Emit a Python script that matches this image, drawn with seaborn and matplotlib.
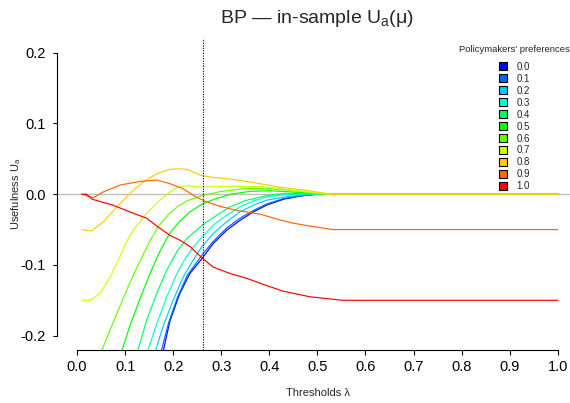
import matplotlib
matplotlib.use("Agg")
import matplotlib.pyplot as plt
from matplotlib.lines import Line2D
import seaborn as sns
import pandas as pd

# Policymakers' preference levels (mu) and their colours (rainbow, red -> blue)
prefs = ["0.0", "0.1", "0.2", "0.3", "0.4", "0.5", "0.6", "0.7", "0.8", "0.9", "1.0"]
colors = ["#0000FF", "#0066FF", "#00CCFF", "#00FFCC", "#00FF66", "#00FF00",
          "#66FF00", "#CCFF00", "#FFCC00", "#FF6600", "#FF0000"]

# Usefulness U_a(mu) against threshold lambda, one curve per preference
lam_00 = [0.01, 0.03, 0.180, 0.193, 0.214, 0.235, 0.260, 0.283, 0.311, 0.339, 0.367, 0.394, 0.43, 0.47, 0.50, 1.0]
u_00 = [-0.85, -0.85, -0.22, -0.180, -0.140, -0.112, -0.091, -0.070, -0.051, -0.037, -0.025, -0.0155, -0.007, -0.002, 0.0, 0.0]

lam_01 = [0.01, 0.03, 0.176, 0.19, 0.21, 0.23, 0.26, 0.283, 0.311, 0.339, 0.367, 0.394, 0.43, 0.47, 0.50, 1.0]
u_01 = [-0.75, -0.75, -0.22, -0.183, -0.144, -0.114, -0.086, -0.067, -0.048, -0.034, -0.023, -0.014, -0.006, -0.002, 0.0, 0.0]

lam_02 = [0.01, 0.03, 0.164, 0.179, 0.200, 0.221, 0.242, 0.260, 0.283, 0.311, 0.339, 0.367, 0.394, 0.43, 0.47, 0.50, 1.0]
u_02 = [-0.65, -0.65, -0.22, -0.187, -0.150, -0.117, -0.093, -0.074, -0.056, -0.039, -0.025, -0.0155, -0.0085, -0.004, -0.001, 0.0, 0.0]

lam_03 = [0.01, 0.03, 0.148, 0.166, 0.187, 0.208, 0.228, 0.249, 0.26, 0.283, 0.311, 0.339, 0.367, 0.394, 0.43, 0.47, 0.52, 1.0]
u_03 = [-0.55, -0.55, -0.22, -0.183, -0.145, -0.112, -0.088, -0.069, -0.061, -0.044, -0.030, -0.018, -0.0095, -0.004, -0.001, 0.0, 0.0, 0.0]

lam_04 = [0.01, 0.03, 0.127, 0.145, 0.166, 0.187, 0.208, 0.228, 0.26, 0.29, 0.318, 0.353, 0.394, 0.43, 0.47, 0.52, 1.0]
u_04 = [-0.45, -0.45, -0.22, -0.178, -0.140, -0.107, -0.081, -0.063, -0.044, -0.030, -0.018, -0.0085, -0.002, 0.001, 0.001, 0.0, 0.0]

lam_05 = [0.01, 0.03, 0.094, 0.11, 0.131, 0.152, 0.173, 0.193, 0.214, 0.235, 0.26, 0.29, 0.32, 0.36, 0.40, 0.45, 0.50, 0.53, 1.0]
u_05 = [-0.35, -0.35, -0.22, -0.186, -0.148, -0.112, -0.080, -0.055, -0.038, -0.025, -0.014, -0.006, 0.0, 0.004, 0.005, 0.003, 0.001, 0.0, 0.0]

lam_06 = [0.01, 0.03, 0.052, 0.07, 0.09, 0.11, 0.13, 0.15, 0.17, 0.19, 0.21, 0.23, 0.26, 0.30, 0.35, 0.40, 0.45, 0.50, 0.53, 1.0]
u_06 = [-0.25, -0.25, -0.22, -0.19, -0.157, -0.125, -0.096, -0.068, -0.045, -0.029, -0.017, -0.009, -0.002, 0.004, 0.008, 0.008, 0.005, 0.001, 0.0, 0.0]

lam_07 = [0.01, 0.028, 0.048, 0.069, 0.086, 0.103, 0.117, 0.145, 0.173, 0.193, 0.21, 0.23, 0.26, 0.30, 0.35, 0.38, 0.42, 0.47, 0.52, 1.0]
u_07 = [-0.15, -0.15, -0.14, -0.117, -0.093, -0.067, -0.051, -0.027, -0.008, 0.003, 0.010, 0.012, 0.010, 0.011, 0.011, 0.011, 0.008, 0.004, 0.0, 0.0]

lam_08 = [0.01, 0.03, 0.055, 0.083, 0.11, 0.137, 0.166, 0.193, 0.21, 0.23, 0.256, 0.28, 0.325, 0.38, 0.42, 0.47, 0.51, 0.53, 1.0]
u_08 = [-0.05, -0.052, -0.039, -0.018, 0.001, 0.017, 0.029, 0.035, 0.036, 0.035, 0.027, 0.024, 0.021, 0.015, 0.010, 0.006, 0.002, 0.0, 0.0]

lam_09 = [0.01, 0.02, 0.034, 0.054, 0.09, 0.13, 0.166, 0.193, 0.22, 0.248, 0.27, 0.297, 0.332, 0.38, 0.42, 0.45, 0.484, 0.532, 1.0]
u_09 = [0.0, -0.002, -0.005, 0.003, 0.013, 0.018, 0.020, 0.015, 0.008, -0.004, -0.011, -0.017, -0.023, -0.028, -0.036, -0.041, -0.045, -0.050, -0.050]

lam_10 = [0.01, 0.02, 0.031, 0.044, 0.075, 0.110, 0.145, 0.166, 0.193, 0.214, 0.235, 0.260, 0.283, 0.318, 0.353, 0.394, 0.428, 0.484, 0.511, 0.553, 1.0]
u_10 = [0.0, 0.0, -0.007, -0.0095, -0.0155, -0.025, -0.034, -0.045, -0.058, -0.065, -0.074, -0.090, -0.103, -0.112, -0.119, -0.129, -0.137, -0.145, -0.147, -0.150, -0.150]

# Selected threshold marked by the dotted line
lam_star = 0.262

x_ticks = [0.0, 0.1, 0.2, 0.3, 0.4, 0.5, 0.6, 0.7, 0.8, 0.9, 1.0]
y_ticks = [-0.2, -0.1, 0.0, 0.1, 0.2]

lams = [lam_00, lam_01, lam_02, lam_03, lam_04, lam_05, lam_06, lam_07, lam_08, lam_09, lam_10]
us = [u_00, u_01, u_02, u_03, u_04, u_05, u_06, u_07, u_08, u_09, u_10]
frames = [pd.DataFrame({"lam": l, "U": u, "pref": p}) for l, u, p in zip(lams, us, prefs)]
df = pd.concat(frames, ignore_index=True)

sns.set_theme(style="ticks")
plt.rcParams["font.family"] = ["Liberation Sans", "DejaVu Sans"]
plt.rcParams["mathtext.fontset"] = "custom"
plt.rcParams["mathtext.rm"] = "Liberation Sans"
plt.rcParams["mathtext.it"] = "Liberation Sans:italic"

W, H = 570, 403
fig = plt.figure(figsize=(W / 100, H / 100), dpi=100)
left, right, top, bottom = 57, 577, 38.2, 350
ax = fig.add_axes([left / W, 1 - bottom / H, (right - left) / W, (bottom - top) / H])

ax.axhline(0, color="#BEBEBE", lw=1.0, zorder=1)
sns.lineplot(data=df, x="lam", y="U", hue="pref", hue_order=prefs, palette=colors,
             estimator=None, sort=False, legend=False, lw=0.85, ax=ax, zorder=2)
ax.axvline(lam_star, color="black", lw=0.8, ls=(0, (1, 1.3)), zorder=3)

ax.set_xlim(-0.0416, 1.04)
ax.set_ylim(-0.2203, 0.2206)
ax.set_xticks(x_ticks)
ax.set_xticklabels([f"{t:.1f}" for t in x_ticks])
ax.set_yticks(y_ticks)
ax.set_yticklabels([f"{t:.1f}" for t in y_ticks])

for s in ["top", "right"]:
    ax.spines[s].set_visible(False)
ax.spines["left"].set_bounds(-0.2, 0.2)
ax.spines["bottom"].set_bounds(0.0, 1.0)
for s in ["left", "bottom"]:
    ax.spines[s].set_linewidth(0.8)
    ax.spines[s].set_color("black")
ax.tick_params(axis="y", length=3.0, width=0.8, pad=5, labelsize=10.5, colors="black")
ax.tick_params(axis="x", length=3.6, width=0.8, pad=3.5, labelsize=10.5, colors="black")

ax.set_xlabel("Thresholds λ", fontsize=8)
ax.xaxis.set_label_coords(0.502, -0.121)
ax.set_ylabel("Usefulness U$_\\mathrm{a}$", fontsize=8)
ax.yaxis.set_label_coords(-0.066, 0.5)
ax.set_title("BP — in-sample U$_\\mathrm{a}$(μ)", fontsize=14, pad=11)

handles = [Line2D([], [], ls="none", marker="s", markersize=5.3, markerfacecolor=c,
                  markeredgecolor="black", markeredgewidth=0.8) for c in colors]
leg = fig.legend(handles, prefs, title="Policymakers' preferences", loc="upper center",
                 bbox_to_anchor=(514 / W, 1 - 38 / H), frameon=False, fontsize=7,
                 title_fontsize=6.8, handlelength=1.0, handletextpad=0.9,
                 labelspacing=0.2, borderpad=0.2)
# extra gap between the legend title and its entries
leg._legend_box.sep = 5.8

fig.savefig("out.png", dpi=100)
